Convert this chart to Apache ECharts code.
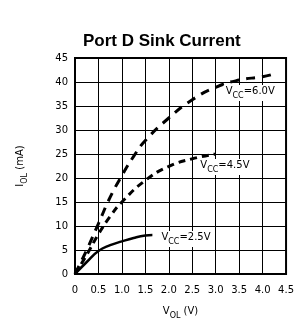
<!DOCTYPE html>
<html>
<head>
<meta charset="utf-8" />
<title>Port D Sink Current</title>
<script src="https://cdn.jsdelivr.net/npm/echarts@6/dist/echarts.min.js"></script>
<style>
  html, body { margin: 0; padding: 0; background: #fff; }
  #chart { width: 297px; height: 332px; }
</style>
</head>
<body>
<div id="chart"></div>
<script type="text/javascript">
// 数据
var xTicks = [0, 0.5, 1.0, 1.5, 2.0, 2.5, 3.0, 3.5, 4.0, 4.5];
var yTicks = [0, 5, 10, 15, 20, 25, 30, 35, 40, 45];

var v60 = [0, 0.25, 0.5, 0.75, 1.0, 1.25, 1.5, 2.0, 2.5, 3.0, 3.5, 4.0, 4.25];
var i60 = [0, 5, 10.5, 16, 20.5, 24.5, 27.8, 32.5, 36.3, 38.9, 40.4, 41.1, 41.7];

var v45 = [0, 0.25, 0.5, 0.75, 1.0, 1.5, 2.0, 2.5, 3.0];
var i45 = [0, 4, 8.3, 12, 15, 19.5, 22.4, 24, 25];

var v25 = [0, 0.25, 0.5, 0.75, 1.0, 1.25, 1.5, 1.65];
var i25 = [0, 2.5, 4.8, 6, 6.8, 7.5, 8.0, 8.1];

var curveNames = ['6.0V', '4.5V', '2.5V'];
var labelAt = [[3.17, 37.7], [2.63, 22.3], [1.8, 7.3]];

function pairs(xs, ys) {
  var out = [];
  for (var k = 0; k < xs.length; k++) out.push([xs[k], ys[k]]);
  return out;
}

var tickFont = 'DejaVu Sans';
var subRich = {
  a: { fontFamily: tickFont, fontSize: 10, color: '#000', lineHeight: 14, verticalAlign: 'top' },
  s: { fontFamily: tickFont, fontSize: 8, color: '#000', lineHeight: 14, verticalAlign: 'bottom', padding: [5, 0, 0, 0] }
};

function vccMark(idx) {
  return {
    symbolSize: 0,
    silent: true,
    data: [{
      coord: labelAt[idx],
      label: {
        show: true,
        position: 'right',
        distance: 0,
        formatter: '{a|V}{s|CC}{a|=' + curveNames[idx] + '}',
        backgroundColor: '#fff',
        padding: [1, 2, 1, 2],
        rich: subRich
      }
    }]
  };
}

var myChart = echarts.init(document.getElementById('chart'));
var option = {
  backgroundColor: '#fff',
  animation: false,
  title: {
    text: 'Port D Sink Current',
    left: 78,
    top: 28,
    textStyle: { fontFamily: 'Liberation Sans', fontWeight: 'bold', fontSize: 17, color: '#000' }
  },
  grid: {
    left: 75, top: 58, width: 217, height: 216,
    show: true, borderColor: '#000', borderWidth: 2, backgroundColor: 'transparent'
  },
  xAxis: {
    type: 'value',
    min: xTicks[0], max: xTicks[xTicks.length - 1], interval: 0.5,
    name: '{a|V}{s|OL}{a| (V)}',
    nameLocation: 'middle',
    nameGap: 32,
    nameTextStyle: { rich: subRich },
    axisLine: { show: true, lineStyle: { color: '#000', width: 2 } },
    axisTick: { show: false },
    axisLabel: {
      margin: 11, fontFamily: tickFont, fontSize: 10, color: '#000',
      formatter: function (v) { return v === 0 ? '0' : v.toFixed(1); }
    },
    splitLine: { show: true, lineStyle: { color: '#000', width: 1 } }
  },
  yAxis: {
    type: 'value',
    min: yTicks[0], max: yTicks[yTicks.length - 1], interval: 5,
    name: '{a|I}{s|OL}{a| (mA)}',
    nameLocation: 'middle',
    nameGap: 46,
    nameRotate: 90,
    nameTextStyle: { rich: subRich },
    axisLine: { show: true, lineStyle: { color: '#000', width: 2 } },
    axisTick: { show: false },
    axisLabel: { margin: 7, fontFamily: tickFont, fontSize: 10, color: '#000' },
    splitLine: { show: true, lineStyle: { color: '#000', width: 1 } }
  },
  series: [
    {
      name: 'VCC=6.0V', type: 'line', smooth: true, symbol: 'none',
      data: pairs(v60, i60),
      lineStyle: { color: '#000', width: 3, type: [9, 7] },
      markPoint: vccMark(0)
    },
    {
      name: 'VCC=4.5V', type: 'line', smooth: true, symbol: 'none',
      data: pairs(v45, i45),
      lineStyle: { color: '#000', width: 3, type: [7, 5] },
      markPoint: vccMark(1)
    },
    {
      name: 'VCC=2.5V', type: 'line', smooth: true, symbol: 'none',
      data: pairs(v25, i25),
      lineStyle: { color: '#000', width: 2.5 },
      markPoint: vccMark(2)
    }
  ]
};
myChart.setOption(option);
</script>
</body>
</html>
